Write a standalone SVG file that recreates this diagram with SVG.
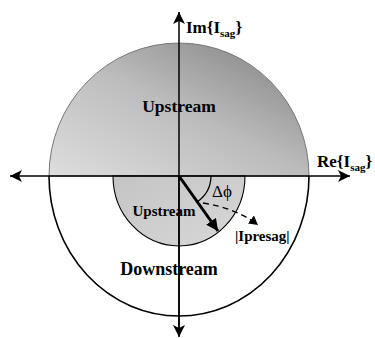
<svg xmlns="http://www.w3.org/2000/svg" width="375" height="338" viewBox="0 0 375 338">
<style>
.t{font-family:"Liberation Serif","Times New Roman",serif;font-weight:bold;fill:#000}
.ax{stroke:#000;stroke-width:1.5;fill:none}
</style>
<defs>
<linearGradient id="gUp" x1="0" y1="1" x2="1" y2="0">
<stop offset="0" stop-color="#dedede"/>
<stop offset="0.5" stop-color="#bcbcbc"/>
<stop offset="1" stop-color="#7e7e7e"/>
</linearGradient>
<linearGradient id="gLo" x1="0" y1="0" x2="1" y2="1">
<stop offset="0" stop-color="#c4c4c4"/>
<stop offset="1" stop-color="#d8d8d8"/>
</linearGradient>
<marker id="ah" markerUnits="userSpaceOnUse" markerWidth="14" markerHeight="12" refX="12" refY="6" orient="auto">
<path d="M0,0 L12,6 L0,12 L3,6 Z" fill="#000"/>
</marker>
<marker id="ahB" markerUnits="userSpaceOnUse" markerWidth="14" markerHeight="12" refX="12" refY="6" orient="auto">
<path d="M0,0 L12,6 L0,12 Z" fill="#000"/>
</marker>
<marker id="ahS" markerUnits="userSpaceOnUse" markerWidth="10" markerHeight="10" refX="9" refY="5" orient="auto">
<path d="M0,0 L9,5 L0,10 Z" fill="#000"/>
</marker>
</defs>
<g id="upstream-region">
<path d="M49,176 A130,133 0 0 1 309,176 Z" fill="url(#gUp)" stroke="#777" stroke-width="1"/>
<text class="t" x="179" y="112" font-size="17.5" text-anchor="middle">Upstream</text>
</g>
<g id="downstream-region">
<path d="M49,176 A130,140 0 0 0 309,176" fill="none" stroke="#000" stroke-width="1.6"/>
<text class="t" x="169" y="275" font-size="18" text-anchor="middle">Downstream</text>
</g>
<g id="inner-upstream">
<path d="M113,176 A66,70 0 0 0 245,176 Z" fill="url(#gLo)" stroke="#000" stroke-width="1.1"/>
<text class="t" x="164" y="216" font-size="15" text-anchor="middle">Upstream</text>
</g>
<g id="connectors">
<line class="ax" x1="179" y1="176" x2="10" y2="176" marker-end="url(#ah)"/>
<line class="ax" x1="179" y1="176" x2="350" y2="176" marker-end="url(#ah)"/>
<line class="ax" x1="179" y1="336" x2="179" y2="12" marker-end="url(#ah)"/>
<line class="ax" x1="179" y1="176" x2="179" y2="337" marker-end="url(#ah)"/>
<line x1="179" y1="176" x2="218" y2="231" stroke="#000" stroke-width="3" marker-end="url(#ahB)"/>
<path d="M211,176 A32,32 0 0 1 197,202" fill="none" stroke="#000" stroke-width="1.3"/>
<path d="M203,203 Q236,208 258,225" fill="none" stroke="#000" stroke-width="1.3" stroke-dasharray="6,4" marker-end="url(#ahS)"/>
</g>
<g id="labels">
<text class="t" x="186" y="33" font-size="17">Im{I<tspan font-size="11" dy="4">sag</tspan><tspan dy="-4">}</tspan></text>
<text class="t" x="317" y="167" font-size="17">Re{I<tspan font-size="11" dy="4">sag</tspan><tspan dy="-4">}</tspan></text>
<text x="212" y="197" font-size="17" font-family="Liberation Serif,serif">Δϕ</text>
<text class="t" x="235" y="241" font-size="15">|Ipresag|</text>
</g>
</svg>
